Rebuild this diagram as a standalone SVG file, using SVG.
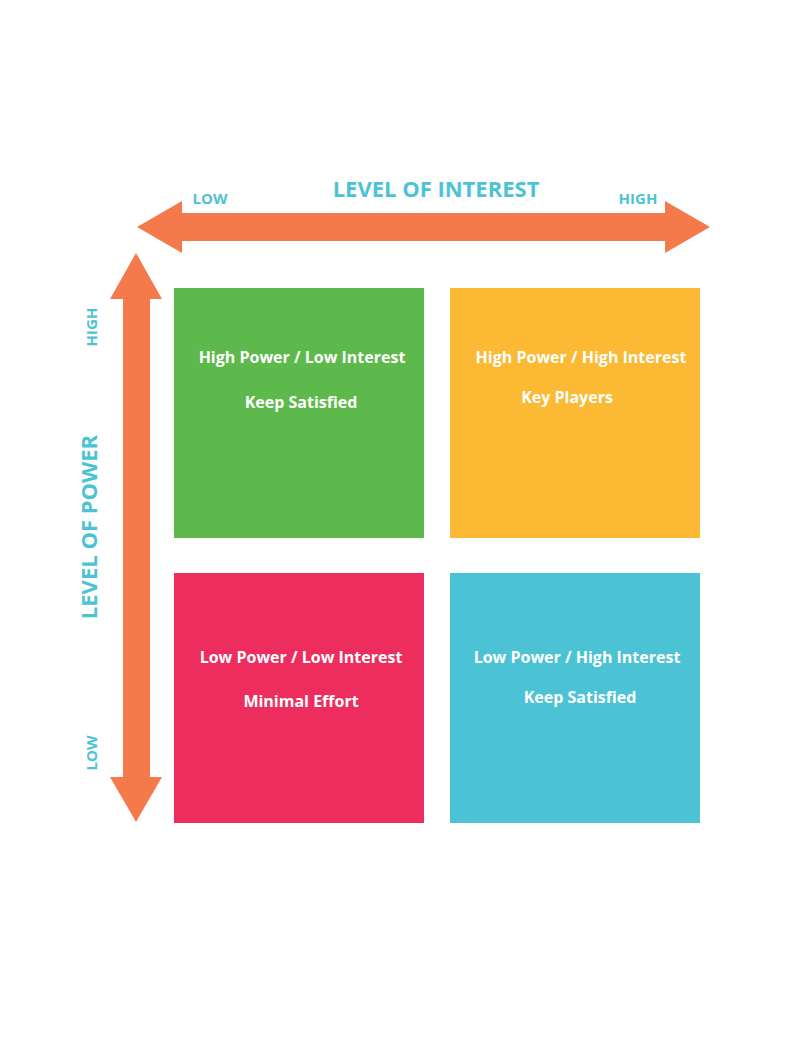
<svg xmlns="http://www.w3.org/2000/svg" width="806" height="1037" viewBox="0 0 806 1037">
<style>
.ax{fill:#F47A4C}
.lbl{font-family:"Open Sans","Liberation Sans",sans-serif;font-weight:bold;fill:#4CC3D5}
.t{font-family:"Open Sans","Liberation Sans",sans-serif;font-weight:bold;fill:#fff;font-size:16px;text-anchor:middle}
</style>
<rect width="806" height="1037" fill="#fff"/>
<g id="connectors">
<polygon class="ax" points="137,227 182,201 182,213 665,213 665,201 710,227 665,253 665,241 182,241 182,253"/>
<polygon class="ax" points="136,253 162,299 150,299 150,777 162,777 136,822 110,777 123,777 123,299 110,299"/>
</g>
<g id="axis-labels">
<text class="lbl" x="436" y="197" font-size="22" text-anchor="middle">LEVEL OF INTEREST</text>
<text class="lbl" x="210" y="204" font-size="15" text-anchor="middle">LOW</text>
<text class="lbl" x="638" y="204" font-size="15" text-anchor="middle">HIGH</text>
<text class="lbl" x="97" y="527" font-size="22" text-anchor="middle" transform="rotate(-90 97 527)">LEVEL OF POWER</text>
<text class="lbl" x="97" y="327" font-size="15" text-anchor="middle" transform="rotate(-90 97 327)">HIGH</text>
<text class="lbl" x="97" y="753" font-size="15" text-anchor="middle" transform="rotate(-90 97 753)">LOW</text>
</g>
<g id="q1"><rect x="174" y="288" width="250" height="250" fill="#5DB94B"/>
<text class="t" x="302" y="363">High Power / Low Interest</text><text class="t" x="301" y="408">Keep Satisfied</text></g>
<g id="q2"><rect x="450" y="288" width="250" height="250" fill="#FBB934"/>
<text class="t" x="581" y="363">High Power / High Interest</text><text class="t" x="567" y="403">Key Players</text></g>
<g id="q3"><rect x="174" y="573" width="250" height="250" fill="#EE2D5F"/>
<text class="t" x="301" y="663">Low Power / Low Interest</text><text class="t" x="301" y="707">Minimal Effort</text></g>
<g id="q4"><rect x="450" y="573" width="250" height="250" fill="#4CC3D5"/>
<text class="t" x="577" y="663">Low Power / High Interest</text><text class="t" x="580" y="703">Keep Satisfied</text></g>
</svg>
